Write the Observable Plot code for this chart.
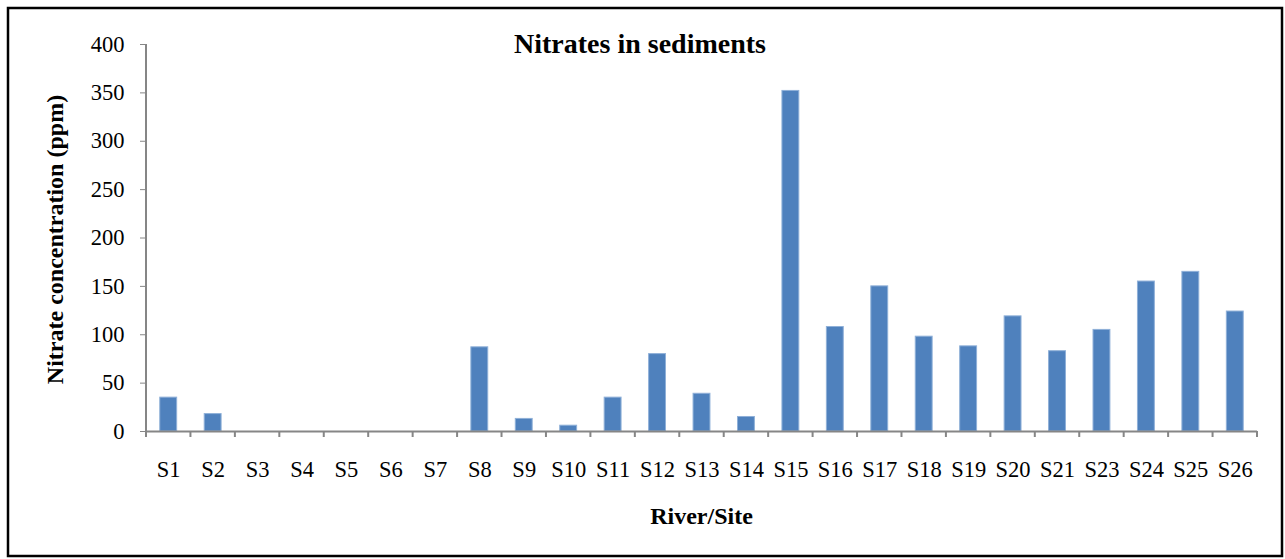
<!DOCTYPE html>
<html>
<head>
<meta charset="utf-8">
<script src="https://cdn.jsdelivr.net/npm/d3@7"></script>
<script src="https://cdn.jsdelivr.net/npm/@observablehq/plot@0.6"></script>
<style>
  html, body { margin: 0; padding: 0; background: #fff; }
  #chart { width: 1285px; height: 559px; position: relative; }
</style>
</head>
<body>
<div id="chart"></div>
<script>
const sites = ["S1","S2","S3","S4","S5","S6","S7","S8","S9","S10","S11","S12","S13","S14","S15","S16","S17","S18","S19","S20","S21","S23","S24","S25","S26"];
const nitrate = [35, 18, 0, 0, 0, 0, 0, 87, 13, 6, 35, 80, 39, 15, 352, 108, 150, 98, 88, 119, 83, 105, 155, 165, 124];
const yTicks = [0, 50, 100, 150, 200, 250, 300, 350, 400];
const title = "Nitrates in sediments";
const xLabel = "River/Site";
const yLabel = "Nitrate concentration (ppm)";

const data = sites.map((s, i) => ({site: s, value: nitrate[i]}));
const axisColor = "#868686";
const font = "'Liberation Serif', 'Times New Roman', serif";

const plot = Plot.plot({
  width: 1285,
  height: 559,
  marginLeft: 146,
  marginRight: 28,
  marginTop: 44,
  marginBottom: 128,
  style: {fontFamily: font, fontSize: "22px", color: "#000", background: "#fff"},
  x: {domain: sites, paddingInner: 0.62, paddingOuter: 0.31, round: false, label: null},
  y: {domain: [0, 400], label: null},
  marks: [
    Plot.barY(data, {x: "site", y: "value", fill: "#4F81BD", stroke: "#8FB0D8", strokeWidth: 1}),
    Plot.ruleY([0], {stroke: axisColor, strokeWidth: 2}),
    Plot.axisY(yTicks, {ticks: yTicks, tickSize: 6, tickPadding: 16, stroke: axisColor, fontSize: 22.5, fill: "#000"}),
    Plot.axisX({tickSize: 0, tickPadding: 30, fontSize: 22.5, fill: "#000"})
  ]
});

const svg = d3.select(plot);
const xs = plot.scale("x");
const ys = plot.scale("y");
const step = xs.step;
const y0 = ys.apply(0);
const y400 = ys.apply(400);
const xStart = xs.apply(sites[0]) - (step - xs.bandwidth) / 2;

// y axis line
svg.append("line")
  .attr("x1", xStart).attr("x2", xStart)
  .attr("y1", y400).attr("y2", y0)
  .attr("stroke", axisColor).attr("stroke-width", 2);

// category boundary ticks
for (let i = 0; i <= sites.length; i++) {
  const x = xStart + i * step;
  svg.append("line")
    .attr("x1", x).attr("x2", x)
    .attr("y1", y0).attr("y2", y0 + 6)
    .attr("stroke", axisColor).attr("stroke-width", 2);
}

// title
svg.append("text")
  .attr("x", 640).attr("y", 47)
  .attr("text-anchor", "middle").attr("dominant-baseline", "middle")
  .style("font-family", font).style("font-size", "28px").style("font-weight", "bold")
  .text(title);

// x label
svg.append("text")
  .attr("x", (xStart + xStart + step * sites.length) / 2).attr("y", 518)
  .attr("text-anchor", "middle").attr("dominant-baseline", "middle")
  .style("font-family", font).style("font-size", "24px").style("font-weight", "bold")
  .text(xLabel);

// y label
svg.append("text")
  .attr("transform", `translate(57, ${(y0 + y400) / 2 + 2}) rotate(-90)`)
  .attr("text-anchor", "middle").attr("dominant-baseline", "middle")
  .style("font-family", font).style("font-size", "24px").style("font-weight", "bold")
  .text(yLabel);

// outer border
svg.append("rect")
  .attr("x", 8).attr("y", 8).attr("width", 1274).attr("height", 548)
  .attr("fill", "none").attr("stroke", "#000").attr("stroke-width", 2.5);

document.getElementById("chart").appendChild(plot);
</script>
</body>
</html>
